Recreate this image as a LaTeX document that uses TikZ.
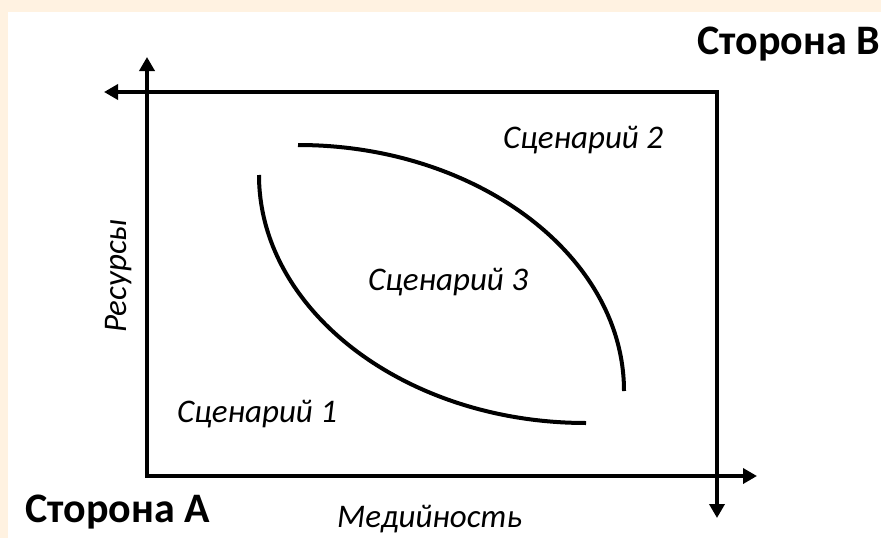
\documentclass[tikz,border=0pt]{standalone}
\usepackage{fontspec}
\setmainfont{Carlito}
\usetikzlibrary{arrows.meta}
\definecolor{peach}{HTML}{FFF2E1}
\begin{document}
\begin{tikzpicture}[x=1pt,y=-1pt,
  axis/.style={line width=4pt,{Triangle[length=14pt,width=15pt]}-{Triangle[length=14pt,width=15pt]}},
  curve/.style={line width=4pt},
  scen/.style={font=\fontsize{33}{38}\selectfont\itshape,inner sep=0pt},
  side/.style={font=\fontsize{42}{48}\selectfont\bfseries,inner sep=0pt}]
\fill[peach] (0,0) rectangle (881,538);
\fill[white] (8,12) rectangle (881,538);
\useasboundingbox (0,0) rectangle (881,538);
\coordinate (ytip) at (147,57);
\coordinate (org) at (147,476);
\coordinate (xtip) at (757,476);
\coordinate (ltip) at (104,92);
\coordinate (corner) at (717,92);
\coordinate (dtip) at (717,518);
\draw[axis] (ytip) -- (org) -- (xtip);
\draw[axis] (ltip) -- (corner) -- (dtip);
\coordinate (c1s) at (298,145);
\coordinate (c1e) at (624,391);
\coordinate (c2s) at (259,175);
\coordinate (c2e) at (586,423);
\draw[curve] (c1s) .. controls (477,145) and (624,256) .. (c1e);
\draw[curve] (c2s) .. controls (259,311) and (406,423) .. (c2e);
\node[scen,anchor=base west] (s2) at (503,148) {Сценарий 2};
\node[scen,anchor=base west] (s3) at (368,290) {Сценарий 3};
\node[scen,anchor=base west] (s1) at (177,422) {Сценарий 1};
\node[scen,anchor=base west] (med) at (337,527) {Медийность};
\node[scen,rotate=90,anchor=base] (res) at (126,276) {Ресурсы};
\node[side,anchor=base west] (sa) at (25,522) {Сторона А};
\node[side,anchor=base west] (sb) at (697,54) {Сторона В};
\end{tikzpicture}
\end{document}
